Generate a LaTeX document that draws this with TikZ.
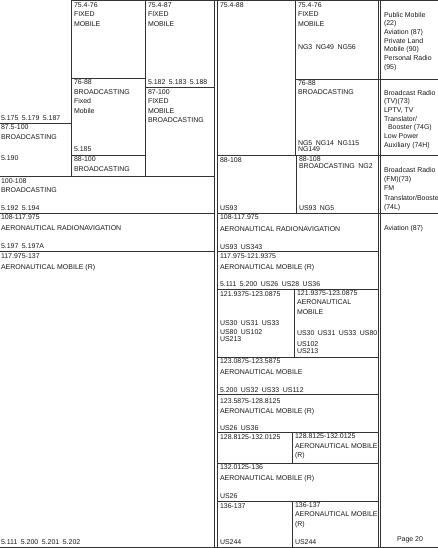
\documentclass[tikz,border=0pt]{standalone}
\usepackage{fontspec}
\setmainfont{Liberation Sans}
\newcommand{\gapx}{\hspace{3.5bp}}
\tikzset{
  cell/.style={anchor=north west, yshift=5.5bp, inner sep=0pt, outer sep=0pt, align=left,
    execute at begin node={\rule{0pt}{5.5bp}},
    font=\fontsize{7}{9.5}\selectfont, text=black!90},
  cellr/.style={cell, font=\fontsize{7}{8.75}\selectfont},
  rule/.style={line width=0.8bp, draw=black!80},
}
\begin{document}
\begin{tikzpicture}[x=1bp,y=-1bp]
\useasboundingbox (0,0) rectangle (438,548);
% ---------- horizontal rules ----------
\draw[rule] (71,0.6) -- (438,0.6);
\draw[rule] (71,78) -- (145,78);
\draw[rule] (145,87) -- (214.3,87);
\draw[rule] (0,123) -- (71,123);
\draw[rule] (71,155) -- (145,155);
\draw[rule] (0,176.5) -- (214.3,176.5);
\draw[rule] (0,213) -- (214.3,213);
\draw[rule] (0,251) -- (214.3,251);
\draw[rule] (0,547) -- (438,547);
\draw[rule] (295,79) -- (438,79);
\draw[rule] (217,155) -- (438,155);
\draw[rule] (217,213) -- (438,213);
\foreach \yy in {251,289,357,394,432,463,501}
  \draw[rule] (217,\yy) -- (378,\yy);
% ---------- vertical rules ----------
\draw[rule] (71,0) -- (71,176.5);
\draw[rule] (145,0) -- (145,176.5);
\draw[rule] (214.3,0) -- (214.3,547);
\draw[rule] (217,0) -- (217,547);
\draw[rule] (295,0) -- (295,155);
\draw[rule] (296,155) -- (296,213);
\draw[rule] (294,289) -- (294,357);
\draw[rule] (292,432) -- (292,463);
\draw[rule] (292,501) -- (292,547);
\draw[rule] (378,0) -- (378,547);
\draw[rule] (380.7,0) -- (380.7,547);
% ---------- ITU columns ----------
\node[cell] (a1) at (74,8) {75.4-76\\FIXED\\MOBILE};
\node[cell] (a2) at (148,8) {75.4-87\\FIXED\\MOBILE};
\node[cell] (a3) at (148,85) {5.182\gapx5.183\gapx5.188};
\node[cell] (a4) at (74,85.5) {76-88\\BROADCASTING\\Fixed\\Mobile};
\node[cell] (a5) at (148,95) {87-100\\FIXED\\MOBILE\\BROADCASTING};
\node[cell] (a6) at (74,152) {5.185};
\node[cell] (a7) at (74,162.5) {88-100\\BROADCASTING};
\node[cell] (a8) at (1,121) {5.175\gapx5.179\gapx5.187};
\node[cell] (a9) at (1,130.5) {87.5-100\\BROADCASTING};
\node[cell] (a10) at (1,161) {5.190};
\node[cell] (a11) at (1,184) {100-108\\BROADCASTING};
\node[cell] (a12) at (1,210.5) {5.192\gapx5.194};
\node[cell] (a13) at (1,220) {108-117.975\\[1.5bp]AERONAUTICAL RADIONAVIGATION};
\node[cell] (a14) at (1,248.5) {5.197\gapx5.197A};
\node[cell] (a15) at (1,259) {117.975-137\\[1.5bp]AERONAUTICAL MOBILE (R)};
\node[cell] (a16) at (1,544.5) {5.111\gapx5.200\gapx5.201\gapx5.202};
% ---------- US columns ----------
\node[cell] (b1) at (220,8) {75.4-88};
\node[cell] (b2) at (298,8) {75.4-76\\FIXED\\MOBILE};
\node[cell] (b3) at (298,49.5) {NG3\gapx NG49\gapx NG56};
\node[cell] (b4) at (298,86) {76-88\\BROADCASTING};
\node[cell] (b5) at (298,146) {NG5\gapx NG14\gapx NG115\\[-3bp]NG149};
\node[cell] (b6) at (220,162.5) {88-108};
\node[cell] (b7) at (220,210.5) {US93};
\node[cell] (b8) at (299,162.5) {88-108\\[-2.5bp]BROADCASTING\gapx NG2};
\node[cell] (b9) at (299,210.5) {US93\gapx NG5};
\node[cell] (b10) at (220,220.5) {108-117.975\\[2bp]AERONAUTICAL RADIONAVIGATION};
\node[cell] (b11) at (220,249) {US93\gapx US343};
\node[cell] (b12) at (220,259) {117.975-121.9375\\[1.5bp]AERONAUTICAL MOBILE (R)};
\node[cell] (b13) at (220,286.5) {5.111\gapx5.200\gapx US26\gapx US28\gapx US36};
\node[cell] (b14) at (220,296) {121.9375-123.0875};
\node[cell] (b15) at (220,326) {US30\gapx US31\gapx US33\\US80\gapx US102\\[-3bp]US213};
\node[cell] (b16) at (297,296) {121.9375-123.0875\\AERONAUTICAL\\MOBILE};
\node[cell] (b17) at (297,336.5) {US30\gapx US31\gapx US33\gapx US80\\[1.5bp]US102\\[-3bp]US213};
\node[cell] (b18) at (220,364.5) {123.0875-123.5875\\[1.5bp]AERONAUTICAL MOBILE};
\node[cell] (b19) at (220,392) {5.200\gapx US32\gapx US33\gapx US112};
\node[cell] (b20) at (220,404) {123.5875-128.8125\\[1bp]AERONAUTICAL MOBILE (R)};
\node[cell] (b21) at (220,430) {US26\gapx US36};
\node[cell] (b22) at (220,439.5) {128.8125-132.0125};
\node[cell] (b23) at (295,439.5) {128.8125-132.0125\\AERONAUTICAL MOBILE\\(R)};
\node[cell] (b24) at (220,470.5) {132.0125-136\\[1.5bp]AERONAUTICAL MOBILE (R)};
\node[cell] (b25) at (220,498.5) {US26};
\node[cell] (b26) at (220,508) {136-137};
\node[cell] (b27) at (295,508) {136-137\\AERONAUTICAL MOBILE\\(R)};
\node[cell] (b28) at (220,544.5) {US244};
\node[cell] (b29) at (295,544.5) {US244};
% ---------- rule part column ----------
\node[cellr] (c1) at (384,17.5) {Public Mobile\\(22)\\Aviation (87)\\Private Land\\Mobile (90)\\Personal Radio\\(95)};
\node[cellr] (c2) at (384,95.5) {Broadcast Radio\\(TV)(73)\\LPTV, TV\\Translator/\\\hspace*{4bp}Booster (74G)\\Low Power\\Auxiliary (74H)};
\node[cell] (c3) at (384,172.5) {Broadcast Radio\\(FM)(73)\\FM\\Translator/Booste\\(74L)};
\node[cell] (c4) at (384,230.5) {Aviation (87)};
\node[cell] (c5) at (397,541) {Page 20};
\end{tikzpicture}
\end{document}
